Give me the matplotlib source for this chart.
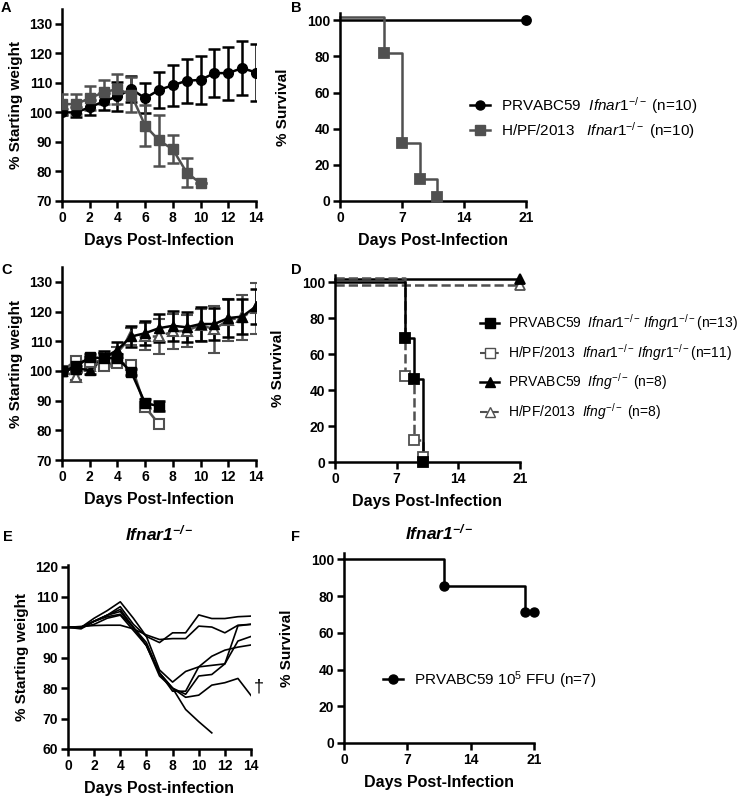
import matplotlib
matplotlib.use('Agg')
import matplotlib.pyplot as plt
from matplotlib.lines import Line2D

plt.rcParams['font.family'] = ['Liberation Sans', 'DejaVu Sans']
plt.rcParams['mathtext.fontset'] = 'custom'
plt.rcParams['mathtext.rm'] = 'Liberation Sans'
plt.rcParams['mathtext.it'] = 'Liberation Sans:italic'
plt.rcParams['mathtext.bf'] = 'Liberation Sans:bold'
plt.rcParams['mathtext.bfit'] = 'Liberation Sans:italic:bold'

GRAY = '#505050'

# ---- panel A: weight, Ifnar1-/-
days_a_prv = list(range(15))
a_prv_mean = [100, 100, 101.7, 103.7, 105.4, 107.9, 104.8, 107.6, 109.2, 110.7, 111, 113.3, 113.3, 115, 113.5]
a_prv_err = [1, 1.7, 2.5, 3, 5, 4.5, 5, 6, 7, 7.5, 8, 8, 9, 9, 9.6]
days_a_hpf = list(range(11))
a_hpf_mean = [102.8, 102.8, 104.8, 106.8, 107.9, 106, 95.5, 90.5, 87.5, 79.6, 76]
a_hpf_err = [3.5, 3.5, 4, 4, 5, 6, 7, 8.5, 4.7, 5, 0]

# ---- panel B: survival, Ifnar1-/-
b_prv_t = [0, 21]
b_prv_s = [100, 100]
b_hpf_t = [0, 5, 7, 9, 11]
b_hpf_s = [102, 82, 32, 12, 2]

# ---- panel C: weight, Ifnar1-/- Ifngr1-/- and Ifng-/-
days_c_dko = list(range(8))
c_prv_dko = [100, 101.5, 104.6, 104.3, 104.3, 99.6, 89.1, 88.2]
c_prv_dko_err = [0, 1.5, 1, 1.5, 1.5, 1, 1.5, 1.8]
c_hpf_dko = [100, 103.5, 103.1, 101.7, 102.8, 102, 87.8, 82.1]
c_hpf_dko_err = [0, 0.8, 0.8, 0.8, 0.8, 0.5, 0.8, 0.5]
days_c_ifng = list(range(15))
c_prv_ifng = [100, 100.8, 100.3, 104.3, 107.1, 111.6, 112.7, 114.4, 115.2, 114.7, 115.8, 115.8, 117.8, 118.3, 121.7]
c_prv_ifng_err = [0, 1, 1.5, 2.5, 2.5, 3.5, 4, 4.8, 5, 5, 5.8, 5.5, 6.5, 6, 6]
c_hpf_ifng = [100, 98.1, 101.5, 104.5, 106.2, 111.6, 111.6, 111.6, 113.3, 113.5, 115.5, 114, 117.2, 118, 121.1]
c_hpf_ifng_err = [0, 1, 1, 1.5, 2, 3, 4.5, 6, 6, 5.5, 5.5, 8, 7, 7.5, 8.5]

# ---- panel D: survival
d_prv_dko_t = [0, 8, 9, 10]
d_prv_dko_s = [100, 69.2, 46.2, 0]
d_hpf_dko_t = [0, 8, 9, 10]
d_hpf_dko_s = [102.5, 48, 12, 3]
d_prv_ifng_t = [0, 21]
d_prv_ifng_s = [102, 102]
d_hpf_ifng_t = [0, 21]
d_hpf_ifng_s = [98.5, 98.5]

# ---- panel E: individual mice
mice_e = [
    [100, 100, 102, 104, 106.8, 101, 97, 95, 98.2, 98.2, 104.1, 102.9, 102.9, 103.5, 103.7],
    [100, 100.3, 100.6, 100.7, 100.7, 99.5, 97.5, 96, 96.3, 96.3, 100.4, 100.1, 98.2, 100.7, 101],
    [100, 99.5, 102, 104, 105.2, 100, 94, 85, 80, 78, 84, 84.5, 88, 100.5, 101],
    [100, 100, 102, 104, 105.9, 100, 95, 85, 79, 79, 87, 87.5, 88, 95.5, 97],
    [100, 100, 103, 105.5, 108.4, 103, 97, 86, 82, 85.5, 87, 90.5, 92.5, 93.5, 94.2],
    [100, 100, 101, 103, 104, 99, 94, 84, 80, 77, 77.7, 81, 81.8, 83.2, 77.6],
    [100, 100, 102, 103.5, 104.3, 100, 94, 85, 80, 73, 69, 65.3],
]

# ---- panel F: survival
f_t = [0, 11, 20, 21]
f_s = [100, 85.7, 71.4, 71.4]

W, H = 750, 800
fig = plt.figure(figsize=(7.5, 8), dpi=100)


def px_axes(left, right, bottom, top):
    return fig.add_axes([left / W, 1 - bottom / H, (right - left) / W, (bottom - top) / H])


def style(ax, xlim, ylim, xt, yt):
    ax.set_xlim(xlim)
    ax.set_ylim(ylim)
    ax.set_xticks(xt)
    ax.set_yticks(yt)
    for s in ['top', 'right']:
        ax.spines[s].set_visible(False)
    for s in ['left', 'bottom']:
        ax.spines[s].set_linewidth(1.8)
    ax.tick_params(direction='out', length=5, width=1.8, labelsize=10, pad=2)
    for lab in ax.get_xticklabels() + ax.get_yticklabels():
        lab.set_fontweight('bold')


def ftext(x, y, s, **kw):
    fig.text(x / W, 1 - y / H, s, **kw)


def survival(ax, t, s, color, marker, mfc, ls='-'):
    ax.step(t, s, where='post', color=color, lw=1.8, ls=ls, clip_on=False)
    ax.plot(t[1:], s[1:], ls='none', marker=marker, color=color, mfc=mfc, mec=color,
            ms=6.5, mew=1.3, clip_on=False, zorder=4)


lab_kw = dict(fontsize=11.5, fontweight='bold')

# ================= A
axA = px_axes(62, 256, 201, 9)
axA.errorbar(days_a_prv, a_prv_mean, yerr=a_prv_err, color='black', marker='o', ms=7,
             lw=1.8, elinewidth=1.8, capsize=4, capthick=1.8, zorder=3)
axA.errorbar(days_a_hpf, a_hpf_mean, yerr=a_hpf_err, color=GRAY, marker='s', ms=7,
             lw=1.8, elinewidth=1.8, capsize=4, capthick=1.8, zorder=3)
style(axA, (0, 14), (70, 135), range(0, 15, 2), range(70, 131, 10))
axA.set_ylabel('% Starting weight', fontsize=11, fontweight='bold', labelpad=4)
axA.set_xlabel('Days Post-Infection', labelpad=6, **lab_kw)

# ================= B
axB = px_axes(340, 526, 201, 13)
survival(axB, b_prv_t, b_prv_s, 'black', 'o', 'black')
survival(axB, b_hpf_t, b_hpf_s, GRAY, 's', GRAY)
style(axB, (0, 21), (0, 104), [0, 7, 14, 21], range(0, 101, 20))
axB.set_ylabel('% Survival', fontsize=11, fontweight='bold', labelpad=12)
axB.set_xlabel('Days Post-Infection', labelpad=6, **lab_kw)
hB = [Line2D([], [], color='black', marker='o', ms=6.5, lw=1.8),
      Line2D([], [], color=GRAY, marker='s', ms=6.5, lw=1.8)]
lB = [r'PRVABC59  $\mathit{Ifnar1^{-/-}}$ (n=10)',
      r'H/PF/2013   $\mathit{Ifnar1^{-/-}}$ (n=10)']
fig.legend(hB, lB, loc='center left', bbox_to_anchor=(470 / W, 1 - 118 / H), frameon=False,
           fontsize=11, handlelength=1.3, handletextpad=0.7, labelspacing=0.25,
           borderpad=0, borderaxespad=0)

# ================= C
axC = px_axes(62, 256, 460, 267)
axC.errorbar(days_c_ifng, c_hpf_ifng, yerr=c_hpf_ifng_err, color=GRAY, marker='^', ms=6.5,
             mfc='white', mew=1.5, ls='--', lw=1.8, elinewidth=1.8, capsize=4, capthick=1.8)
axC.errorbar(days_c_ifng, c_prv_ifng, yerr=c_prv_ifng_err, color='black', marker='^', ms=6.5,
             lw=1.8, elinewidth=1.8, capsize=4, capthick=1.8)
axC.errorbar(days_c_dko, c_hpf_dko, yerr=c_hpf_dko_err, color=GRAY, marker='s', ms=7,
             mfc='white', mew=1.5, ls='-', lw=1.8, elinewidth=1.8, capsize=4, capthick=1.8)
axC.errorbar(days_c_dko, c_prv_dko, yerr=c_prv_dko_err, color='black', marker='s', ms=7,
             lw=1.8, elinewidth=1.8, capsize=4, capthick=1.8)
style(axC, (0, 14), (70, 135), range(0, 15, 2), range(70, 131, 10))
axC.set_ylabel('% Starting weight', fontsize=11, fontweight='bold', labelpad=4)
axC.set_xlabel('Days Post-Infection', labelpad=6, **lab_kw)

# ================= D
axD = px_axes(335, 520, 462, 275)
survival(axD, d_hpf_ifng_t, d_hpf_ifng_s, GRAY, '^', 'white', ls='--')
survival(axD, d_prv_ifng_t, d_prv_ifng_s, 'black', '^', 'black')
survival(axD, d_hpf_dko_t, d_hpf_dko_s, GRAY, 's', 'white', ls='--')
survival(axD, d_prv_dko_t, d_prv_dko_s, 'black', 's', 'black')
style(axD, (0, 21), (0, 104), [0, 7, 14, 21], range(0, 101, 20))
axD.set_ylabel('% Survival', fontsize=11, fontweight='bold', labelpad=12)
axD.set_xlabel('Days Post-Infection', labelpad=6, **lab_kw)
hD = [Line2D([], [], color='black', marker='s', ms=6.5, lw=1.8),
      Line2D([], [], color=GRAY, marker='s', mfc='white', ms=6.5, lw=1.5, ls='--'),
      Line2D([], [], color='black', marker='^', ms=6.5, lw=1.8),
      Line2D([], [], color=GRAY, marker='^', mfc='white', ms=6.5, lw=1.5, ls='--')]
lD = [r'PRVABC59  $\mathit{Ifnar1^{-/-}\,Ifngr1^{-/-}}$(n=13)',
      r'H/PF/2013  $\mathit{Ifnar1^{-/-}\,Ifngr1^{-/-}}$(n=11)',
      r'PRVABC59  $\mathit{Ifng^{-/-}}$ (n=8)',
      r'H/PF/2013  $\mathit{Ifng^{-/-}}$ (n=8)']
fig.legend(hD, lD, loc='center left', bbox_to_anchor=(480 / W, 1 - 367 / H), frameon=False,
           fontsize=10, handlelength=1.4, handletextpad=0.6, labelspacing=0.62,
           borderpad=0, borderaxespad=0)

# ================= E
axE = px_axes(68, 251, 749, 565)
for m in mice_e:
    axE.plot(range(len(m)), m, color='black', lw=1.2)
style(axE, (0, 14), (60, 120.5), range(0, 15, 2), range(60, 121, 10))
axE.text(14.25, 80.5, '\u2020', fontsize=13, va='center', ha='left')
axE.set_ylabel('% Starting weight', fontsize=11, fontweight='bold', labelpad=4)
axE.set_xlabel('Days Post-infection', labelpad=6, **lab_kw)
axE.set_title(r'$\mathbfit{Ifnar1^{-/-}}$', fontsize=12.5, pad=18)

# ================= F
axF = px_axes(344, 534, 743, 553)
axF.step(f_t, f_s, where='post', color='black', lw=1.8, clip_on=False)
axF.plot(f_t[1:], f_s[1:], ls='none', marker='o', color='black', ms=6.5, clip_on=False)
style(axF, (0, 21), (0, 103.5), [0, 7, 14, 21], range(0, 101, 20))
axF.set_ylabel('% Survival', fontsize=11, fontweight='bold', labelpad=12)
axF.set_xlabel('Days Post-Infection', labelpad=6, **lab_kw)
axF.set_title(r'$\mathbfit{Ifnar1^{-/-}}$', fontsize=12.5, pad=10)
hF = [Line2D([], [], color='black', marker='o', ms=6.5, lw=1.8)]
fig.legend(hF, [r'PRVABC59 10$^5$ FFU (n=7)'], loc='center left',
           bbox_to_anchor=(383 / W, 1 - 680 / H), frameon=False, fontsize=11,
           handlelength=1.3, handletextpad=0.7, borderpad=0, borderaxespad=0)

# panel letters
for letter, x, y in [('A', 1, 8), ('B', 291, 8), ('C', 1, 270), ('D', 291, 270),
                     ('E', 3, 537), ('F', 291, 537)]:
    ftext(x, y, letter, fontsize=10.5, fontweight='bold', va='center', ha='left')

fig.savefig('out.png', dpi=100)
